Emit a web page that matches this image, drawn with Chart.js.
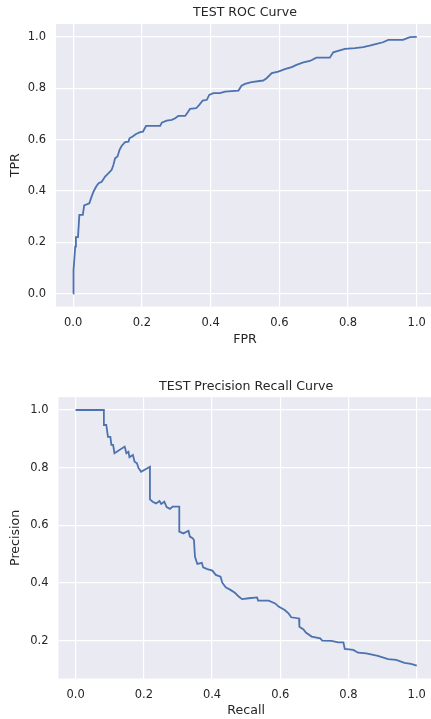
<!DOCTYPE html>
<html>
<head>
<meta charset="utf-8">
<script src="https://cdn.jsdelivr.net/npm/chart.js@4.4.0/dist/chart.umd.min.js"></script>
<style>
    html, body { margin: 0; padding: 0; background: #fff; overflow: hidden; }
    #wrap { position: relative; width: 431px; height: 719px; overflow: hidden; }
    canvas { position: absolute; left: 0; }
    #rocChart { top: 0; }
    #prChart { top: 360px; }
</style>
</head>
<body>
<div id="wrap">
    <canvas id="rocChart" width="436" height="360"></canvas>
    <canvas id="prChart" width="436" height="359"></canvas>
</div>
<script>
// ROC curve
const rocFpr = [0, 0.001, 0.006, 0.008, 0.014, 0.018, 0.028, 0.032, 0.047, 0.052, 0.059, 0.067, 0.074, 0.083, 0.093, 0.103,
    0.112, 0.117, 0.122, 0.129, 0.135, 0.141, 0.151, 0.161, 0.164, 0.173, 0.183, 0.195, 0.203, 0.212, 0.253, 0.258,
    0.272, 0.287, 0.297, 0.306, 0.326, 0.335, 0.34, 0.358, 0.367, 0.377, 0.389, 0.396, 0.408, 0.427, 0.442, 0.481,
    0.49, 0.5, 0.519, 0.553, 0.563, 0.578, 0.597, 0.616, 0.636, 0.65, 0.67, 0.689, 0.708, 0.747, 0.757, 0.776,
    0.791, 0.82, 0.844, 0.863, 0.883, 0.902, 0.917, 0.96, 0.98, 1];
const rocTpr = [0, 0.092, 0.183, 0.22, 0.22, 0.307, 0.307, 0.344, 0.352, 0.372, 0.397, 0.417, 0.43, 0.436, 0.456, 0.469,
    0.482, 0.501, 0.527, 0.534, 0.56, 0.575, 0.59, 0.592, 0.605, 0.612, 0.622, 0.629, 0.631, 0.653, 0.653, 0.666,
    0.674, 0.677, 0.683, 0.692, 0.692, 0.709, 0.72, 0.722, 0.735, 0.752, 0.755, 0.774, 0.781, 0.781, 0.787, 0.791,
    0.81, 0.817, 0.824, 0.83, 0.839, 0.859, 0.865, 0.874, 0.882, 0.891, 0.901, 0.906, 0.919, 0.919, 0.94, 0.947,
    0.953, 0.956, 0.96, 0.966, 0.973, 0.979, 0.988, 0.988, 0.999, 1];

// Precision recall curve
const prRecall = [0, 0.083, 0.083, 0.09, 0.095, 0.102, 0.105, 0.11, 0.114, 0.144, 0.149, 0.155, 0.158, 0.168, 0.173, 0.18,
    0.184, 0.192, 0.218, 0.218, 0.226, 0.236, 0.246, 0.251, 0.26, 0.267, 0.277, 0.284, 0.304, 0.304, 0.316, 0.331,
    0.335, 0.343, 0.347, 0.35, 0.357, 0.37, 0.374, 0.386, 0.401, 0.411, 0.425, 0.43, 0.44, 0.454, 0.467, 0.479,
    0.488, 0.508, 0.532, 0.535, 0.566, 0.585, 0.595, 0.613, 0.624, 0.632, 0.655, 0.656, 0.668, 0.675, 0.692, 0.717,
    0.723, 0.75, 0.77, 0.785, 0.789, 0.814, 0.828, 0.852, 0.886, 0.916, 0.94, 0.964, 0.983, 1.0];
const prPrecision = [1, 1, 0.948, 0.948, 0.907, 0.907, 0.879, 0.879, 0.85, 0.873, 0.85, 0.855, 0.836, 0.844, 0.821, 0.815,
    0.8, 0.786, 0.803, 0.69, 0.682, 0.676, 0.684, 0.674, 0.682, 0.663, 0.657, 0.665, 0.665, 0.578, 0.572, 0.581,
    0.561, 0.555, 0.549, 0.491, 0.466, 0.47, 0.454, 0.448, 0.443, 0.428, 0.422, 0.401, 0.385, 0.376, 0.366, 0.352,
    0.344, 0.347, 0.35, 0.339, 0.339, 0.329, 0.318, 0.306, 0.295, 0.281, 0.277, 0.248, 0.239, 0.228, 0.214, 0.208,
    0.2, 0.199, 0.194, 0.194, 0.171, 0.168, 0.158, 0.156, 0.147, 0.136, 0.133, 0.123, 0.119, 0.113];

// Tick labels
const xTicks = [0, 0.2, 0.4, 0.6, 0.8, 1.0];
const rocYTicks = [0, 0.2, 0.4, 0.6, 0.8, 1.0];
const prYTicks = [0.2, 0.4, 0.6, 0.8, 1.0];

const FONT = '"DejaVu Sans", Verdana, sans-serif';
const TEXT = '#262626';
const LINE = '#4C72B0';

// matplotlib style 5% margins
function limits(vals) {
    const lo = Math.min(...vals), hi = Math.max(...vals);
    const pad = (hi - lo) * 0.05;
    return [lo - pad, hi + pad];
}

const plotBg = {
    id: 'plotBg',
    beforeDraw(chart) {
        const { ctx, chartArea: a } = chart;
        ctx.save();
        ctx.fillStyle = '#EAEAF2';
        ctx.fillRect(a.left, a.top, a.right - a.left, a.bottom - a.top);
        ctx.restore();
    }
};

function makeChart(id, xs, ys, title, xLabel, yLabel, yTicks, lay) {
    const [xMin, xMax] = limits(xs);
    const [yMin, yMax] = limits(ys);
    const points = xs.map((x, i) => ({ x: x, y: ys[i] }));
    const tickFont = { family: FONT, size: 11.5 };
    const labelFont = { family: FONT, size: 12.6 };

    return new Chart(document.getElementById(id), {
        type: 'scatter',
        data: {
            datasets: [{
                data: points,
                showLine: true,
                borderColor: LINE,
                borderWidth: 1.8,
                pointRadius: 0,
                fill: false
            }]
        },
        plugins: [plotBg],
        options: {
            responsive: false,
            animation: false,
            layout: { padding: { top: lay.padTop, left: 0, right: 2, bottom: lay.padBottom } },
            plugins: {
                legend: { display: false },
                tooltip: { enabled: false },
                title: {
                    display: true,
                    text: title,
                    fullSize: false,
                    color: TEXT,
                    font: { family: FONT, size: 12.6, weight: 'normal' },
                    padding: { top: 5.5, bottom: 3.4 }
                }
            },
            scales: {
                x: {
                    type: 'linear',
                    min: xMin,
                    max: xMax,
                    afterBuildTicks: s => { s.ticks = xTicks.map(v => ({ value: v })); },
                    afterFit: s => { s.height = lay.xHeight; },
                    grid: { color: '#ffffff', lineWidth: 1.2, drawTicks: false },
                    border: { display: false },
                    ticks: { color: TEXT, font: tickFont, padding: 10, maxRotation: 0,
                        callback: v => Number(v).toFixed(1) },
                    title: { display: true, text: xLabel, color: TEXT, font: labelFont,
                        padding: { top: 0, bottom: lay.xTitlePad } }
                },
                y: {
                    type: 'linear',
                    min: yMin,
                    max: yMax,
                    afterBuildTicks: s => { s.ticks = yTicks.map(v => ({ value: v })); },
                    afterFit: s => { s.width = lay.yWidth; },
                    grid: { color: '#ffffff', lineWidth: 1.2, drawTicks: false },
                    border: { display: false },
                    ticks: { color: TEXT, font: tickFont, padding: 10,
                        callback: v => Number(v).toFixed(1) },
                    title: { display: true, text: yLabel, color: TEXT, font: labelFont,
                        padding: { top: 8.4, bottom: 0 } }
                }
            }
        }
    });
}

makeChart('rocChart', rocFpr, rocTpr, 'TEST ROC Curve', 'FPR', 'TPR', rocYTicks,
    { padTop: 0, padBottom: 9.5, xHeight: 44, xTitlePad: 3, yWidth: 56 });

makeChart('prChart', prRecall, prPrecision, 'TEST Precision Recall Curve', 'Recall', 'Precision', prYTicks,
    { padTop: 13.2, padBottom: 0.5, xHeight: 40, xTitlePad: 0, yWidth: 58.5 });
</script>
</body>
</html>
